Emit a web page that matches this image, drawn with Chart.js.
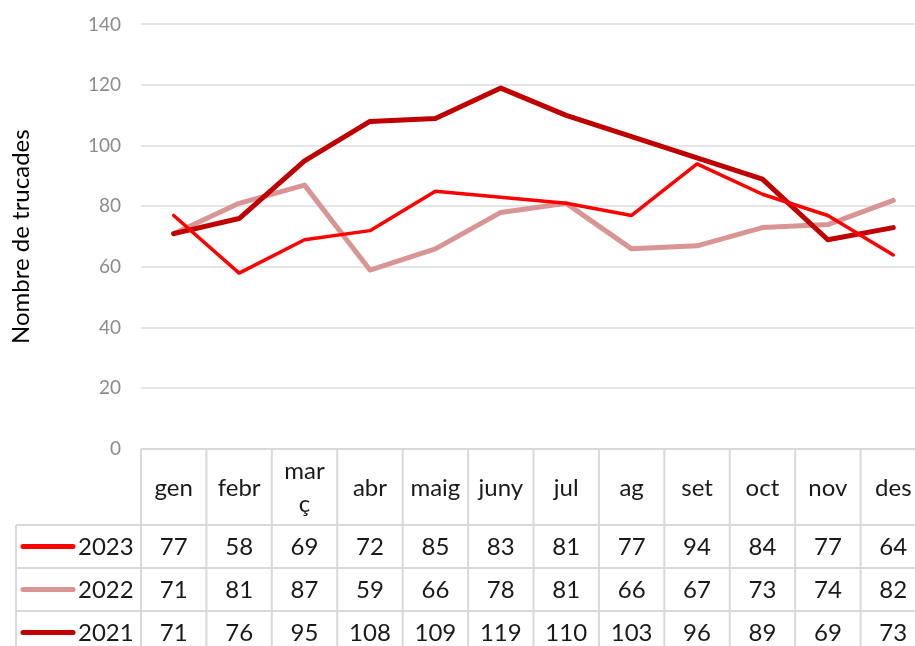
<!DOCTYPE html>
<html>
<head>
<meta charset="utf-8">
<script src="https://cdn.jsdelivr.net/npm/chart.js@4/dist/chart.umd.min.js"></script>
<style>
html,body{margin:0;padding:0;background:#fff;}
#wrap{width:915px;height:646px;overflow:hidden;position:relative;}
#wrap canvas{display:block;margin-top:-7px;}
</style>
</head>
<body>
<div id="wrap"><canvas id="c" width="940" height="653"></canvas></div>
<script>
const months = ['gen', 'febr', ['mar', 'ç'], 'abr', 'maig', 'juny', 'jul', 'ag', 'set', 'oct', 'nov', 'des'];
const seriesNames = ['2023', '2022', '2021'];
const values2023 = [77, 58, 69, 72, 85, 83, 81, 77, 94, 84, 77, 64];
const values2022 = [71, 81, 87, 59, 66, 78, 81, 66, 67, 73, 74, 82];
const values2021 = [71, 76, 95, 108, 109, 119, 110, 103, 96, 89, 69, 73];
const yTicks = [0, 20, 40, 60, 80, 100, 120, 140];
const axisTitle = 'Nombre de trucades';

const colors = ['#ff0000', '#d99594', '#c00000'];
const widths = [3.5, 5, 5];
const FONT = 'Lato, "Open Sans", sans-serif';

const tablePlugin = {
  id: 'dataTable',
  afterDraw(chart) {
    const ctx = chart.ctx;
    const xs = chart.scales.x;
    const area = chart.chartArea;
    const n = months.length;
    const colW = xs.getPixelForValue(1) - xs.getPixelForValue(0);
    const left = area.left;
    const right = left + colW * n;
    const top = area.bottom;
    const headerH = 76;
    const rowH = 43;
    const legendLeft = 16;
    const rows = [values2023, values2022, values2021];
    ctx.save();
    ctx.strokeStyle = '#d9d9d9';
    ctx.lineWidth = 2;
    ctx.beginPath();
    ctx.moveTo(left, top); ctx.lineTo(right, top);
    for (let r = 0; r <= rows.length; r++) {
      const y = top + headerH + r * rowH;
      ctx.moveTo(legendLeft, y); ctx.lineTo(right, y);
    }
    for (let c = 0; c <= n; c++) {
      const x = left + c * colW;
      ctx.moveTo(x, top); ctx.lineTo(x, top + headerH + rows.length * rowH);
    }
    ctx.moveTo(legendLeft, top + headerH); ctx.lineTo(legendLeft, top + headerH + rows.length * rowH);
    ctx.stroke();

    ctx.fillStyle = '#1a1a1a';
    ctx.textAlign = 'center';
    ctx.textBaseline = 'middle';
    ctx.font = '24px ' + FONT;
    for (let c = 0; c < n; c++) {
      const x = xs.getPixelForValue(c);
      const lab = months[c];
      const lines = Array.isArray(lab) ? lab : [lab];
      const lh = 33;
      const cy = top + headerH / 2 + 1;
      lines.forEach((t, i) => {
        ctx.fillText(t, x, cy + (i - (lines.length - 1) / 2) * lh);
      });
    }
    rows.forEach((vals, r) => {
      const cy = top + headerH + r * rowH + rowH / 2 + 1;
      vals.forEach((v, c) => {
        ctx.fillText(String(v), xs.getPixelForValue(c), cy);
      });
      ctx.save();
      ctx.strokeStyle = colors[r];
      ctx.lineWidth = 5;
      ctx.lineCap = 'round';
      ctx.beginPath();
      ctx.moveTo(23, cy - 1); ctx.lineTo(73, cy - 1);
      ctx.stroke();
      ctx.restore();
      ctx.textAlign = 'left';
      ctx.fillText(seriesNames[r], 78, cy);
      ctx.textAlign = 'center';
    });
    ctx.restore();
  }
};

new Chart(document.getElementById('c'), {
  type: 'line',
  data: {
    labels: months,
    datasets: [values2023, values2022, values2021].map((d, i) => ({
      label: seriesNames[i],
      data: d,
      borderColor: colors[i],
      backgroundColor: colors[i],
      borderWidth: widths[i],
      pointRadius: 0,
      tension: 0,
      borderJoinStyle: 'round',
      borderCapStyle: 'round',
      order: i === 0 ? 0 : i === 2 ? 1 : 2
    }))
  },
  options: {
    responsive: false,
    animation: false,
    devicePixelRatio: 1,
    layout: { padding: { top: 10, bottom: 197, left: 0, right: 14 } },
    plugins: { legend: { display: false }, tooltip: { enabled: false } },
    scales: {
      x: { display: false, offset: true },
      y: {
        min: 0, max: 140,
        afterBuildTicks(s) { s.ticks = yTicks.map(v => ({ value: v })); },
        afterFit(s) { s.width = 141; },
        ticks: { color: '#8c8c8c', font: { family: FONT, size: 19 }, padding: 20 },
        grid: { color: '#e6e6e6', lineWidth: 2, drawTicks: false },
        border: { display: false },
        title: {
          display: true, text: axisTitle, color: '#000',
          font: { family: FONT, size: 24 }, padding: { top: 7, bottom: 0 }
        }
      }
    }
  },
  plugins: [tablePlugin]
});
</script>
</body>
</html>
